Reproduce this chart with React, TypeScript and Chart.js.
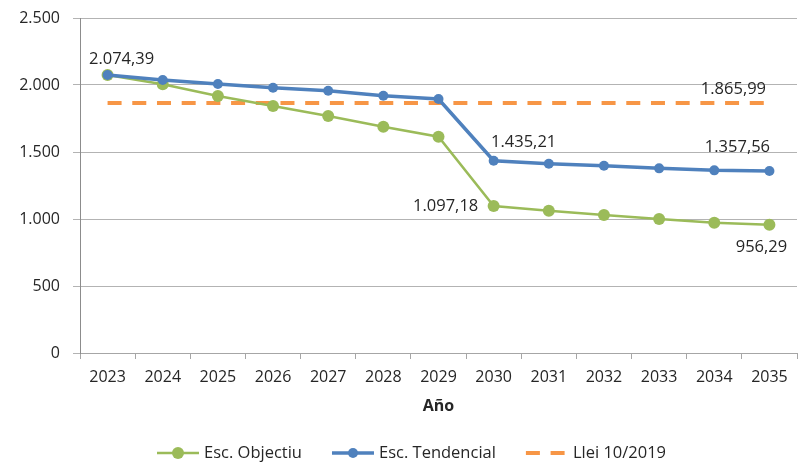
import React, { useEffect, useRef } from "react";
import { Chart, registerables } from "chart.js";

Chart.register(...registerables);

const years = ["2023", "2024", "2025", "2026", "2027", "2028", "2029", "2030", "2031", "2032", "2033", "2034", "2035"];
const objectiu = [2074.39, 2005, 1918, 1843, 1769, 1689, 1614, 1097.18, 1062, 1030, 1000, 972, 956.29];
const tendencial = [2074.39, 2037, 2007, 1979, 1957, 1920, 1895, 1435.21, 1412, 1397, 1378, 1363, 1357.56];
const llei = [1865.99, 1865.99, 1865.99, 1865.99, 1865.99, 1865.99, 1865.99, 1865.99, 1865.99, 1865.99, 1865.99, 1865.99, 1865.99];
const seriesNames = ["Esc. Objectiu", "Esc. Tendencial", "Llei 10/2019"];
const yTicks = [0, 500, 1000, 1500, 2000, 2500];

const GREEN = "#9BBB59";
const BLUE = "#4F81BD";
const ORANGE = "#F79646";
const FONT = "'Open Sans', 'Noto Sans', sans-serif";
const TEXT = "#262626";

function fmt(v: number, decimals: number): string {
  const fixed = v.toFixed(decimals);
  const [intPart, dec] = fixed.split(".");
  const withSep = intPart.replace(/\B(?=(\d{3})+(?!\d))/g, ".");
  return dec ? withSep + "," + dec : withSep;
}

// [datasetIndex, pointIndex, dx, dy]
const labelSpecs: [number, number, number, number][] = [
  [0, 0, 14, -16],
  [2, 12, -36, -14],
  [1, 7, 30, -18],
  [1, 12, -32, -24],
  [0, 7, -48, 0],
  [0, 12, -8, 22],
];

const labelsPlugin = {
  id: "valueLabels",
  afterDatasetsDraw(chart: any) {
    const ctx = chart.ctx;
    ctx.save();
    ctx.font = `16.5px ${FONT}`;
    ctx.fillStyle = TEXT;
    ctx.textAlign = "center";
    ctx.textBaseline = "middle";
    for (const [ds, i, dx, dy] of labelSpecs) {
      const el = chart.getDatasetMeta(ds).data[i];
      const v = chart.data.datasets[ds].data[i] as number;
      ctx.fillText(fmt(v, 2), el.x + dx, el.y + dy);
    }
    ctx.restore();
  },
};

const legendPlugin = {
  id: "customLegend",
  afterDraw(chart: any) {
    const ctx = chart.ctx;
    ctx.save();
    ctx.font = `16.5px ${FONT}`;
    ctx.textBaseline = "middle";
    ctx.textAlign = "left";
    const y = 453;
    let x = 157;
    const lineLen = 42;
    chart.data.datasets.forEach((ds: any) => {
      ctx.save();
      ctx.strokeStyle = ds.borderColor;
      ctx.lineWidth = ds.borderWidth;
      if (ds.borderDash && ds.borderDash.length) ctx.setLineDash(ds.borderDash);
      ctx.beginPath();
      ctx.moveTo(x, y);
      ctx.lineTo(x + lineLen, y);
      ctx.stroke();
      ctx.restore();
      if (ds.pointRadius > 0) {
        ctx.fillStyle = ds.pointBackgroundColor;
        ctx.beginPath();
        ctx.arc(x + lineLen / 2, y, ds.pointRadius, 0, Math.PI * 2);
        ctx.fill();
      }
      ctx.fillStyle = TEXT;
      ctx.fillText(ds.label, x + lineLen + 5, y);
      const w = ctx.measureText(ds.label).width;
      x += lineLen + 5 + w + 30;
    });
    ctx.restore();
  },
};

export default function App() {
  const ref = useRef<HTMLCanvasElement | null>(null);
  useEffect(() => {
    document.body.style.margin = "0";
    const canvas = ref.current;
    if (!canvas) return;
    const chart = new Chart(canvas, {
      type: "line",
      data: {
        labels: years,
        datasets: [
          {
            label: seriesNames[0],
            data: objectiu,
            borderColor: GREEN,
            backgroundColor: GREEN,
            pointBackgroundColor: GREEN,
            pointBorderColor: GREEN,
            borderWidth: 2.5,
            pointRadius: 6,
            pointBorderWidth: 0,
            order: 1,
          },
          {
            label: seriesNames[1],
            data: tendencial,
            borderColor: BLUE,
            backgroundColor: BLUE,
            pointBackgroundColor: BLUE,
            pointBorderColor: BLUE,
            borderWidth: 3.5,
            pointRadius: 5,
            pointBorderWidth: 0,
            order: 0,
          },
          {
            label: seriesNames[2],
            data: llei,
            borderColor: ORANGE,
            backgroundColor: ORANGE,
            borderWidth: 4,
            borderDash: [14, 10.7],
            pointRadius: 0,
            order: 2,
          },
        ] as any,
      },
      options: {
        animation: false,
        responsive: false,
        devicePixelRatio: 1,
        layout: { autoPadding: false, padding: { top: 18, right: 2, left: 0, bottom: 39 } },
        plugins: {
          legend: { display: false },
          tooltip: { enabled: false },
        },
        scales: {
          x: {
            type: "category",
            offset: true,
            grid: {
              offset: true,
              drawOnChartArea: false,
              drawTicks: true,
              tickLength: 6,
              color: "#a6a6a6",
            },
            border: { display: true, color: "#a6a6a6", width: 1 },
            ticks: {
              font: { family: FONT, size: 16 },
              color: TEXT,
              padding: 9,
              maxRotation: 0,
              autoSkip: false,
            },
            title: {
              display: true,
              text: "Año",
              font: { family: FONT, size: 16, weight: "bold" },
              color: TEXT,
              padding: { top: 0, bottom: 7 },
            },
            afterFit(scale: any) {
              scale.height = 70;
              scale.paddingLeft = 0;
              scale.paddingRight = 0;
            },
          },
          y: {
            min: 0,
            max: 2500,
            afterBuildTicks(scale: any) {
              scale.ticks = yTicks.map((v) => ({ value: v }));
            },
            grid: {
              color: "#b3b3b3",
              tickLength: 7,
              drawTicks: true,
            },
            border: { display: true, color: "#8c8c8c", width: 1 },
            ticks: {
              font: { family: FONT, size: 16 },
              color: TEXT,
              padding: 13,
              callback: (v: any) => fmt(Number(v), 0),
            },
            afterFit(scale: any) {
              scale.width = 80;
              scale.paddingTop = 0;
              scale.paddingBottom = 0;
            },
          },
        },
      } as any,
      plugins: [labelsPlugin, legendPlugin],
    });
    return () => chart.destroy();
  }, []);
  return (
    <div style={{ width: 799, height: 462 }}>
      <canvas ref={ref} width={799} height={462} style={{ width: 799, height: 462, display: "block" }} />
    </div>
  );
}
